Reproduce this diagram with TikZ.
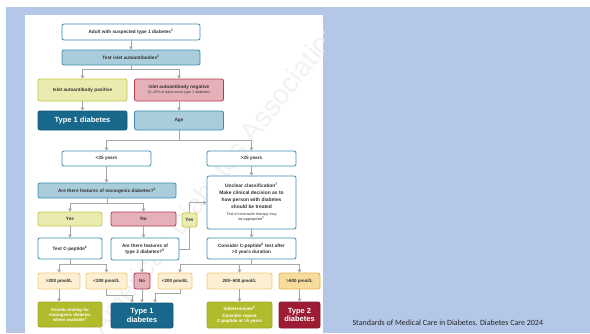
\documentclass[tikz,border=0pt]{standalone}
\usepackage{fontspec}
\setmainfont{Liberation Sans}
\newfontfamily\footfont{Carlito}
\usetikzlibrary{arrows.meta,calc}
\definecolor{bgblue}{HTML}{B4C7E7}
\definecolor{tealb}{HTML}{3D8DB0}
\definecolor{lblue}{HTML}{A9CDDB}
\definecolor{dteal}{HTML}{17688A}
\definecolor{ylwf}{HTML}{E9EBAF}
\definecolor{ylwb}{HTML}{C5C84B}
\definecolor{pinkf}{HTML}{E6B0BA}
\definecolor{pinkb}{HTML}{B33A4D}
\definecolor{olive}{HTML}{B2BB2C}
\definecolor{orf}{HTML}{FCEFD2}
\definecolor{orb}{HTML}{F1CB7C}
\definecolor{or2f}{HTML}{F7DC9E}
\definecolor{or2b}{HTML}{E7B24A}
\definecolor{dred}{HTML}{9C1C33}
\definecolor{conng}{HTML}{A6A6A6}
\newcommand{\smallnote}{\fontsize{3.7}{4.5}\selectfont\mdseries}
\begin{document}
\begin{tikzpicture}[x=1pt,y=-1pt,
  box/.style={draw, rounded corners=2pt, line width=0.8pt, inner sep=0pt, align=center,
    font=\fontsize{4.7}{6.8}\selectfont\bfseries, text=black!80},
  wbox/.style={box, draw=tealb, fill=white},
  bbox/.style={box, draw=tealb, fill=lblue},
  dbox/.style={box, draw=dteal!85!black, fill=dteal, text=white},
  ybox/.style={box, draw=ylwb, fill=ylwf},
  pbox/.style={box, draw=pinkb, fill=pinkf},
  obox/.style={box, draw=orb, fill=orf, font=\fontsize{4.5}{5.5}\selectfont\bfseries},
  o2box/.style={box, draw=or2b, fill=or2f, font=\fontsize{4.5}{5.5}\selectfont\bfseries},
  olbox/.style={box, draw=olive!90!black, fill=olive, text=white},
  rbox/.style={box, draw=dred!85!black, fill=dred, text=white},
  line/.style={draw=conng, line width=1pt},
  conn/.style={line, -{Triangle[length=3pt,width=3.6pt]}}
]
\useasboundingbox (0,0) rectangle (590,333);
\fill[bgblue] (6,7) rectangle (590,333);
\fill[white] (25,15) rectangle (323,333);
\begin{scope}
\clip (25,15) rectangle (323,333);
\node[rotate=52, text=black!5, font=\fontsize{28}{28}\selectfont] (wm) at (215,178) {American Diabetes Association};
\end{scope}

% boxes
\node[wbox, minimum width=138pt, minimum height=16pt] (adult) at (131,32) {Adult with suspected type 1 diabetes\textsuperscript{1}};
\node[bbox, minimum width=138pt, minimum height=15pt] (test) at (131,57.5) {Test islet autoantibodies\textsuperscript{2}};
\node[ybox, minimum width=89pt, minimum height=22pt] (pos) at (82.5,90) {Islet autoantibody positive};
\node[pbox, minimum width=89pt, minimum height=22pt] (neg) at (179,90) {Islet autoantibody negative\\[-1.5pt]\fontsize{3.6}{4.5}\selectfont\mdseries (5--10\% of adult-onset type 1 diabetes)};
\node[dbox, minimum width=89pt, minimum height=19pt, font=\fontsize{7.5}{9}\selectfont\bfseries] (t1top) at (82.5,120.5) {Type 1 diabetes};
\node[bbox, minimum width=89pt, minimum height=19pt] (age) at (179,120.5) {Age};
\node[wbox, minimum width=89pt, minimum height=15pt] (lt35) at (106.5,158.5) {<35 years};
\node[wbox, minimum width=89pt, minimum height=15pt] (gt35) at (251.5,158.5) {>35 years};
\node[bbox, minimum width=138pt, minimum height=15pt] (mono) at (107,190.5) {Are there features of monogenic diabetes?\textsuperscript{3}};
\node[ybox, minimum width=64pt, minimum height=14pt] (yes1) at (70,219) {Yes};
\node[pbox, minimum width=65pt, minimum height=14pt] (no1) at (143.5,219) {No};
\node[ybox, minimum width=15pt, minimum height=14pt] (yes2) at (189.5,220) {Yes};
\node[wbox, minimum width=89pt, minimum height=53pt, font=\fontsize{4.9}{6.9}\selectfont\bfseries] (unclear) at (251.5,202.5) {Unclear classification\textsuperscript{7}\\Make clinical decision as to\\how person with diabetes\\should be treated\\[0.5pt]\smallnote Trial of noninsulin therapy may\\[-1.8pt]\smallnote be appropriate\textsuperscript{8}};
\node[wbox, minimum width=64pt, minimum height=21pt] (testc) at (70,248.5) {Test C-peptide\textsuperscript{6}};
\node[wbox, minimum width=68pt, minimum height=22pt] (feat2) at (145,249) {Are there features of\\[-1pt]type 2 diabetes?\textsuperscript{5}};
\node[wbox, minimum width=89pt, minimum height=21pt] (consider) at (251.5,248.5) {Consider C-peptide\textsuperscript{6} test after\\[-1pt]>3 years duration};
\node[obox, minimum width=42pt, minimum height=16pt] (r1) at (59,281) {>200 pmol/L};
\node[obox, minimum width=41pt, minimum height=16pt] (r2) at (106.5,281) {<200 pmol/L};
\node[pbox, minimum width=16pt, minimum height=16pt, font=\fontsize{4.5}{5.5}\selectfont\bfseries] (r3) at (142,281) {No};
\node[obox, minimum width=34pt, minimum height=16pt] (r4) at (175,281) {<200 pmol/L};
\node[obox, minimum width=65pt, minimum height=16pt] (r5) at (239.5,281) {200--600 pmol/L};
\node[o2box, minimum width=41pt, minimum height=16pt] (r6) at (299.5,281) {>600 pmol/L};
\node[olbox, minimum width=64pt, minimum height=25pt, font=\fontsize{4.3}{5}\selectfont\bfseries] (genetic) at (70,314.5) {Genetic testing for\\monogenic diabetes\\where available\textsuperscript{4}};
\node[dbox, minimum width=62pt, minimum height=25pt, font=\fontsize{7.5}{8.5}\selectfont\bfseries] (t1bot) at (142,315.5) {Type 1\\diabetes};
\node[olbox, minimum width=65pt, minimum height=26pt, font=\fontsize{4.5}{6.2}\selectfont\bfseries] (indet) at (239.5,315) {Indeterminate\textsuperscript{6}\\Consider repeat\\[-0.8pt]C-peptide at >5 years};
\node[rbox, minimum width=41pt, minimum height=26pt, font=\fontsize{7.5}{8.5}\selectfont\bfseries] (t2) at (299.5,315) {Type 2\\diabetes};

% connectors
\draw[conn] (adult.south) -- (test.north);
\draw[conn] (test.south) -- ++(0,4) -| (pos.north);
\draw[conn] (test.south) -- ++(0,4) -| (neg.north);
\draw[conn] (pos.south) -- (t1top.north);
\draw[conn] (neg.south) -- (age.north);
\draw[conn] (age.south) -- ++(0,10.5) -| (lt35.north);
\draw[conn] (age.south) -- ++(0,10.5) -| (gt35.north);
\draw[conn] (lt35.south) -- (lt35.south |- mono.north);
\draw[conn] (mono.south) -- ++(0,5) -| (yes1.north);
\draw[conn] (mono.south) -- ++(0,5) -| (no1.north);
\draw[conn] (gt35.south) -- (unclear.north);
\draw[conn] (yes1.south) -- (testc.north);
\draw[conn] (no1.south) -- (no1.south |- feat2.north);
\draw[line] (feat2.east) -| (yes2.south);
\draw[conn] (yes2.north) |- (unclear.west);
\draw[conn] (unclear.south) -- (consider.north);
\draw[conn] (testc.south) -- ++(0,5) -| (r1.north);
\draw[conn] (testc.south) -- ++(0,5) -| (r2.north);
\draw[conn] (r3.north |- feat2.south) -- (r3.north);
\draw[conn] (consider.south) -- ++(0,5) -| ([xshift=5pt]r4.north);
\draw[conn] (consider.south) -- ++(0,5) -| (r5.north);
\draw[conn] (consider.south) -- ++(0,5) -| (r6.north);
\draw[conn] (r1.south) -- (r1.south |- genetic.north);
\draw[conn] (r2.south) -- ++(0,6) -| ([xshift=-10pt]t1bot.north);
\draw[conn] (r3.south) -- (t1bot.north);
\draw[conn] ([xshift=5pt]r4.south) -- ++(0,4) -| ([xshift=13pt]t1bot.north);
\draw[conn] (r5.south) -- (indet.north);
\draw[conn] (r6.south) -- (t2.north);

\node[anchor=west, font=\footfont\fontsize{8}{9}\selectfont, text=black!85] (foot) at (349,323) {Standards of Medical Care in Diabetes. Diabetes Care 2024};
\end{tikzpicture}
\end{document}
